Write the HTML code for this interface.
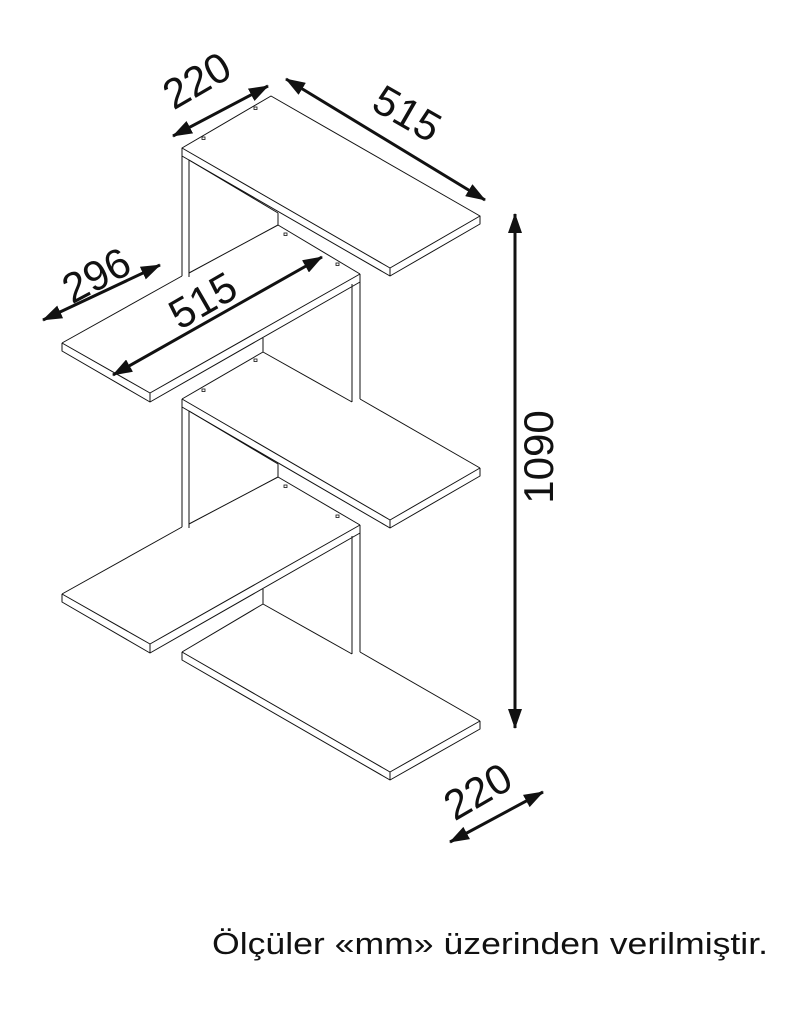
<!DOCTYPE html>
<html><head><meta charset="utf-8"><style>
html,body{margin:0;padding:0;background:#fff;}
svg{display:block;}
</style></head><body>
<svg width="810" height="1012" viewBox="0 0 810 1012" xmlns="http://www.w3.org/2000/svg">
<defs>
<marker id="ah" viewBox="0 0 20 14" refX="19" refY="7" markerWidth="20" markerHeight="14" markerUnits="userSpaceOnUse" orient="auto-start-reverse">
<path d="M0,0 L20,7 L0,14 Z" fill="#111"/>
</marker>
</defs>
<g fill="none" stroke="#111" stroke-width="1" stroke-linejoin="round">
<polygon points="182,148 271,96 480,216 390,268" fill="#fff"/>
<polyline points="182,148 182,156 390,276 480,224 480,216"/>
<line x1="390" y1="268" x2="390" y2="276"/>
<line x1="182" y1="156" x2="182" y2="276"/>
<line x1="189" y1="160" x2="189" y2="277"/>
<line x1="189" y1="160" x2="278" y2="213"/>
<line x1="278" y1="213" x2="278" y2="225"/>
<polyline points="62,343 150,393 360,274"/>
<polyline points="62,343 62,351 150,402 360,282 360,274"/>
<line x1="150" y1="393" x2="150" y2="402"/>
<line x1="62" y1="343" x2="182" y2="276"/>
<line x1="189" y1="273" x2="278" y2="225"/>
<line x1="278" y1="225" x2="360" y2="274"/>
<line x1="360" y1="282" x2="360" y2="399"/>
<line x1="352" y1="284" x2="352" y2="402"/>
<line x1="263" y1="338" x2="263" y2="352"/>
<line x1="263" y1="352" x2="352" y2="402"/>
<line x1="182" y1="399" x2="263" y2="352"/>
<line x1="360" y1="399" x2="480" y2="468"/>
<polyline points="182,399 390,520 480,468"/>
<polyline points="182,399 182,407 390,528 480,476 480,468"/>
<line x1="390" y1="520" x2="390" y2="528"/>
<line x1="182" y1="407" x2="182" y2="527"/>
<line x1="189" y1="411" x2="189" y2="528"/>
<line x1="189" y1="411" x2="278" y2="464"/>
<line x1="278" y1="464" x2="278" y2="477"/>
<polyline points="62,594 150,644 360,525"/>
<polyline points="62,594 62,602 150,653 360,533 360,525"/>
<line x1="150" y1="644" x2="150" y2="653"/>
<line x1="62" y1="594" x2="182" y2="527"/>
<line x1="189" y1="524" x2="278" y2="477"/>
<line x1="278" y1="477" x2="360" y2="525"/>
<line x1="360" y1="533" x2="360" y2="652"/>
<line x1="352" y1="536" x2="352" y2="654"/>
<line x1="263" y1="589" x2="263" y2="604"/>
<line x1="263" y1="604" x2="352" y2="654"/>
<line x1="182" y1="652" x2="263" y2="604"/>
<line x1="360" y1="652" x2="480" y2="721"/>
<polyline points="182,652 390,772 480,721"/>
<polyline points="182,652 182,660 390,780 480,729 480,721"/>
<line x1="390" y1="772" x2="390" y2="780"/>
</g>
<g fill="#fff" stroke="#111" stroke-width="0.8">
<rect x="202" y="137" width="3" height="2.5"/><rect x="254" y="107" width="3" height="2.5"/>
<rect x="284" y="233" width="3" height="2.5"/><rect x="336" y="263" width="3" height="2.5"/>
<rect x="202" y="389" width="3" height="2.5"/><rect x="254" y="359" width="3" height="2.5"/>
<rect x="284" y="485" width="3" height="2.5"/><rect x="336" y="515" width="3" height="2.5"/>
</g>
<g stroke="#111" stroke-width="3" marker-start="url(#ah)" marker-end="url(#ah)">
<line x1="173" y1="136" x2="268" y2="86"/>
<line x1="286" y1="79" x2="485" y2="200"/>
<line x1="43" y1="320" x2="160" y2="265"/>
<line x1="113" y1="375" x2="322" y2="257"/>
<line x1="515" y1="214" x2="515" y2="728"/>
<line x1="450" y1="842" x2="543" y2="792"/>
</g>
<g font-family="Liberation Sans, sans-serif" fill="#111" text-anchor="middle" font-size="42">
<text transform="translate(204,93) rotate(-30)">220</text>
<text transform="translate(400,126) rotate(30)">515</text>
<text transform="translate(103,288) rotate(-28)">296</text>
<text transform="translate(210,313) rotate(-30)">515</text>
<text transform="translate(553,457) rotate(-90)">1090</text>
<text transform="translate(485,804) rotate(-30)">220</text>
</g>
<text x="212" y="954" font-family="Liberation Sans, sans-serif" font-size="31" fill="#111" textLength="556" lengthAdjust="spacingAndGlyphs">Ölçüler «mm» üzerinden verilmiştir.</text>
</svg>
</body></html>
